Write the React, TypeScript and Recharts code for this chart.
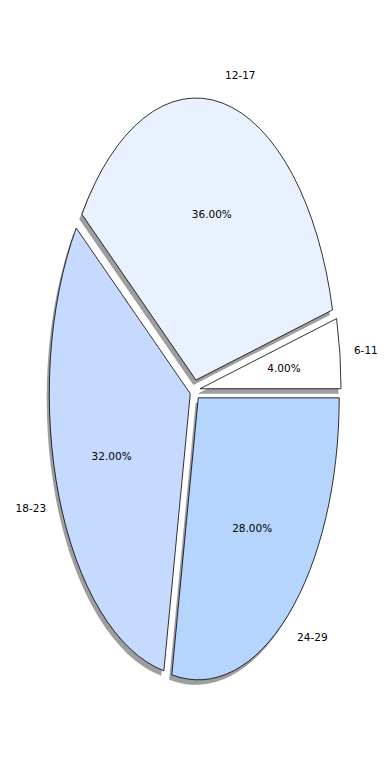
import { Cell, Pie, PieChart } from "recharts";

const AGE_GROUPS = ["6-11", "12-17", "18-23", "24-29"];
const SHARES = [4, 36, 32, 28];
const COLORS = ["#ffffff", "#eaf1fe", "#c6d9fe", "#b5d5fe"];

const W = 390;
const H = 780;
const CX = 195;
const CY = 390;
const RX = 141;
const RY = 282; // axes are not equal, so the pie is stretched vertically
const EXPLODE = 0.036;
const SHADOW = { dx: -2.6, dy: 5 };
const FONT = "DejaVu Sans, sans-serif";
const RAD = Math.PI / 180;

const data = AGE_GROUPS.map((name, i) => ({ name, value: SHARES[i] }));

// center of an exploded wedge
function shift(cx: number, cy: number, mid: number) {
  return {
    x: cx + EXPLODE * RX * Math.cos(mid * RAD),
    y: cy - EXPLODE * RY * Math.sin(mid * RAD),
  };
}

function wedgePath(cx: number, cy: number, a0: number, a1: number) {
  const x0 = cx + RX * Math.cos(a0 * RAD);
  const y0 = cy - RY * Math.sin(a0 * RAD);
  const x1 = cx + RX * Math.cos(a1 * RAD);
  const y1 = cy - RY * Math.sin(a1 * RAD);
  const large = Math.abs(a1 - a0) > 180 ? 1 : 0;
  return `M${cx},${cy}L${x0},${y0}A${RX},${RY} 0 ${large} 0 ${x1},${y1}Z`;
}

function Wedge(props: any) {
  const { cx, cy, startAngle, endAngle, midAngle, fill } = props;
  const c = shift(cx, cy, midAngle);
  return (
    <path
      d={wedgePath(c.x, c.y, startAngle, endAngle)}
      fill={fill}
      stroke="#000"
      strokeWidth={0.8}
      strokeLinejoin="miter"
    />
  );
}

function ShadowWedge(props: any) {
  const { cx, cy, startAngle, endAngle, midAngle } = props;
  const c = shift(cx, cy, midAngle);
  return (
    <path
      d={wedgePath(c.x + SHADOW.dx, c.y + SHADOW.dy, startAngle, endAngle)}
      fill="#9e9e9e"
      stroke="none"
    />
  );
}

function renderLabel(props: any) {
  const { cx, cy, midAngle, percent, name } = props;
  const c = shift(cx, cy, midAngle);
  const cos = Math.cos(midAngle * RAD);
  const sin = Math.sin(midAngle * RAD);
  return (
    <g>
      <text
        x={c.x + 1.1 * RX * cos}
        y={c.y - 1.1 * RY * sin}
        textAnchor={cos > 0 ? "start" : "end"}
        dominantBaseline="central"
        fontSize={10.5}
        fontFamily={FONT}
        fill="#000"
      >
        {name}
      </text>
      <text
        x={c.x + 0.6 * RX * cos}
        y={c.y - 0.6 * RY * sin}
        textAnchor="middle"
        dominantBaseline="central"
        fontSize={10.5}
        fontFamily={FONT}
        fill="#000"
      >
        {(percent * 100).toFixed(2)}%
      </text>
    </g>
  );
}

export default function App() {
  return (
    <div style={{ width: W, height: H, background: "#fff" }}>
      <style>{"body{margin:0}"}</style>
      <PieChart width={W} height={H} margin={{ top: 0, right: 0, bottom: 0, left: 0 }}>
        <Pie
          data={data}
          dataKey="value"
          nameKey="name"
          cx={CX}
          cy={CY}
          outerRadius={RX}
          startAngle={0}
          endAngle={360}
          stroke="none"
          shape={ShadowWedge}
          isAnimationActive={false}
        />
        <Pie
          data={data}
          dataKey="value"
          nameKey="name"
          cx={CX}
          cy={CY}
          outerRadius={RX}
          startAngle={0}
          endAngle={360}
          shape={Wedge}
          label={renderLabel}
          labelLine={false}
          isAnimationActive={false}
        >
          {data.map((d, i) => (
            <Cell key={d.name} fill={COLORS[i]} />
          ))}
        </Pie>
      </PieChart>
    </div>
  );
}
